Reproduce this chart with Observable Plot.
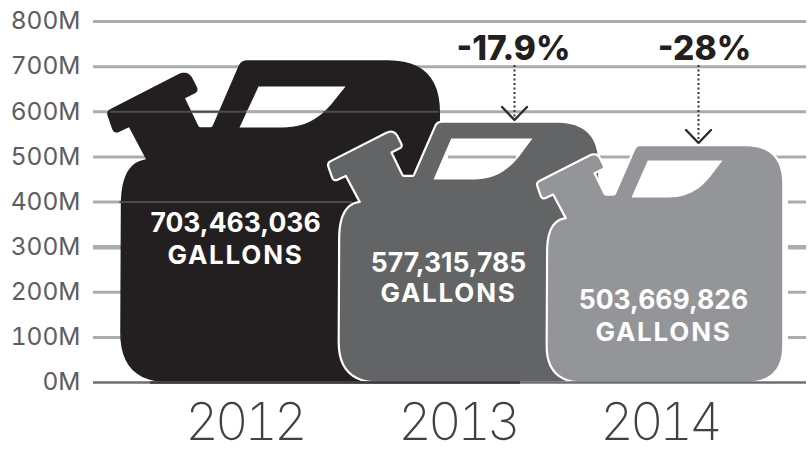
<!DOCTYPE html>
<html><head><meta charset="utf-8">
<script src="https://cdn.jsdelivr.net/npm/d3@7"></script>
<script src="https://cdn.jsdelivr.net/npm/@observablehq/plot@0.6"></script>
<style>html,body{margin:0;padding:0;background:#fff}svg{display:block}</style>
</head><body><div id="chart"></div>
<script>
// ---- data
const years = ["2012", "2013", "2014"];
const gallons = [703463036, 577315785, 503669826];
const gallonLabels = ["703,463,036", "577,315,785", "503,669,826"];
const changeLabels = ["-17.9%", "-28%"];
const gridTicks = [0, 100, 200, 300, 400, 500, 600, 700, 800];
const drawnTops = [714, 578, 526]; // top of each can icon, in millions

// ---- layout (x domain is page pixels, y domain millions of gallons)
const W = 808, H = 455, X0 = 93, Y0 = 382, Y800 = 21;
const m = py => (Y0 - py) * 800 / (Y0 - Y800);
const canLeft = [119.5, 338, 546], canScale = [1, 0.815, 0.74];
const canFill = ["#231f20", "#636466", "#939598"];
const canStroke = ["none", "#fff", "#fff"];
const yearX = [244, 457, 659];
const labelX = [235, 448, 663];
const labelY1 = [231, 271, 308], labelY2 = [263, 301, 340];
const windows = [[239,345,86,127],[433,532,138,179],[631,722,160,197]];

// icon outline in pixels of the largest can: x, y, corner radius
const outline = [[119,382,50],[120,162,42],[145,159,0],[128,127,0],[113,134,6],[105,111,5],[187,69,11],
  [198,91,5],[184,98,0],[198,127,2],[211,127,2],[240,60,6],[439,60,52],[439,382,50]];
const windowShape = [[258,86,0],[345,86,0],[312,127,30],[239,127,0]];

function rounded(pts) {
  const out = [], n = pts.length;
  pts.forEach((p, i) => {
    const a = pts[(i + n - 1) % n], b = pts[(i + 1) % n], r = p[2];
    if (!r) { out.push([p[0], p[1]]); return; }
    const la = Math.hypot(a[0]-p[0], a[1]-p[1]), lb = Math.hypot(b[0]-p[0], b[1]-p[1]);
    const s = [p[0]+(a[0]-p[0])*Math.min(r/la,1), p[1]+(a[1]-p[1])*Math.min(r/la,1)];
    const e = [p[0]+(b[0]-p[0])*Math.min(r/lb,1), p[1]+(b[1]-p[1])*Math.min(r/lb,1)];
    for (let k = 0; k <= 12; k++) {
      const t = k/12, u = 1-t;
      out.push([u*u*s[0]+2*u*t*p[0]+t*t*e[0], u*u*s[1]+2*u*t*p[1]+t*t*e[1]]);
    }
  });
  out.push(out[0]);
  return out;
}
const outlinePts = rounded(outline), windowPts = rounded(windowShape);
const canPts = i => outlinePts.map(([x, y]) => ({
  x: canLeft[i] + canScale[i] * (x - 119),
  y: drawnTops[i] * (Y0 - y) / (Y0 - 60)
}));
const winPts = i => { const [a,b,c,d] = windows[i];
  return windowPts.map(([x, y]) => ({ x: a + (x-239)/106*(b-a), y: m(c + (y-86)/41*(d-c)) })); };

const gridColor = "#a9adb3";
const marks = [
  Plot.ruleY(gridTicks.filter(d => d > 0), {x1: X0, x2: 806, stroke: gridColor, strokeWidth: 3}),
  Plot.ruleY([300], {x1: X0, x2: 806, stroke: gridColor, strokeWidth: 4.5}),
  Plot.ruleY([100,200,300,400], {x1: 783, x2: 788, stroke: "#fff", strokeWidth: 6}),
];
years.forEach((_, i) => {
  marks.push(Plot.line(canPts(i), {x: "x", y: "y", curve: "linear", fill: canFill[i],
    stroke: canStroke[i], strokeWidth: i ? 2.2 : 0}));
  marks.push(Plot.line(winPts(i), {x: "x", y: "y", curve: "linear", fill: "#fff", stroke: "none"}));
});
marks.push(
  // gridlines faintly showing through the first can and the windows
  Plot.ruleY([600], {x1: 110, x2: 439, stroke: "#4a4b4e", strokeWidth: 2}),
  Plot.ruleY([400], {x1: 119.5, x2: 352, stroke: "#4a4b4e", strokeWidth: 2}),
  Plot.ruleY([600], {x1: 246.5, x2: 323, stroke: gridColor, strokeWidth: 3}),
  Plot.ruleY([500], {x1: 448, x2: 516, stroke: gridColor, strokeWidth: 3}),
  // baseline
  Plot.ruleY([0], {x1: X0, x2: 806, stroke: "#6d6e71", strokeWidth: 2.5}),
  Plot.ruleY([0], {x1: 150, x2: 520, stroke: "#3b3b3d", strokeWidth: 2.5}),
  // gallon labels
  Plot.text(years.map((_, i) => i), {x: i => labelX[i], y: i => m(labelY1[i]), text: i => gallonLabels[i],
    fill: "#fff", fontSize: 26.5, fontWeight: 700, fontFamily: "Inter", lineAnchor: "bottom"}),
  Plot.text(years.map((_, i) => i), {x: i => labelX[i], y: i => m(labelY2[i]), text: () => "GALLONS",
    fill: "#fff", fontSize: 26, fontWeight: 700, fontFamily: "Inter", lineAnchor: "bottom"}),
  // changes
  Plot.text([0, 1], {x: i => [513, 704][i], y: () => m(59), text: i => changeLabels[i],
    fill: "#231f20", fontSize: 33.5, fontWeight: 800, fontFamily: "Inter", lineAnchor: "bottom"}),
  Plot.ruleX([0, 1], {x: i => [514, 698][i], y1: m(65), y2: i => m([118, 141][i]),
    stroke: "#333", strokeWidth: 2, strokeDasharray: "2 2.5"}),
  ...[[514, 119.5], [698, 142.5]].map(([x, y]) => Plot.line(
    [[-12.5,-13],[0,0],[12.5,-13]].map(([dx, dy]) => ({x: x + dx, y: m(y + dy)})),
    {x: "x", y: "y", curve: "linear", stroke: "#2b2b2b", strokeWidth: 2.4})),
  Plot.axisY(gridTicks, {anchor: "left", tickSize: 0, tickPadding: 13, tickFormat: d => d + "M",
    fontSize: 24.5, fontWeight: 400, fontFamily: "Inter", fill: "#5c5d60", label: null}),
  Plot.axisX(yearX, {anchor: "bottom", tickSize: 0, tickPadding: 21, tickFormat: (d, i) => years[i],
    fontSize: 52, fontWeight: 200, fontFamily: "Inter", fill: "#414042", label: null})
);
const chart = Plot.plot({
  width: W, height: H, marginLeft: X0, marginRight: 0, marginTop: Y800, marginBottom: H - Y0,
  x: {domain: [X0, W], range: [X0, W]},
  y: {domain: [0, 800], range: [Y0, Y800]},
  style: {background: "#fff", overflow: "visible"},
  marks
});
d3.select(chart).selectAll("text").each(function () {
  const t = this.textContent;
  if (t === "GALLONS") this.style.letterSpacing = "1.8px";
  if (years.includes(t)) this.style.letterSpacing = "-4px";
});
document.getElementById("chart").appendChild(chart);
</script></body></html>
